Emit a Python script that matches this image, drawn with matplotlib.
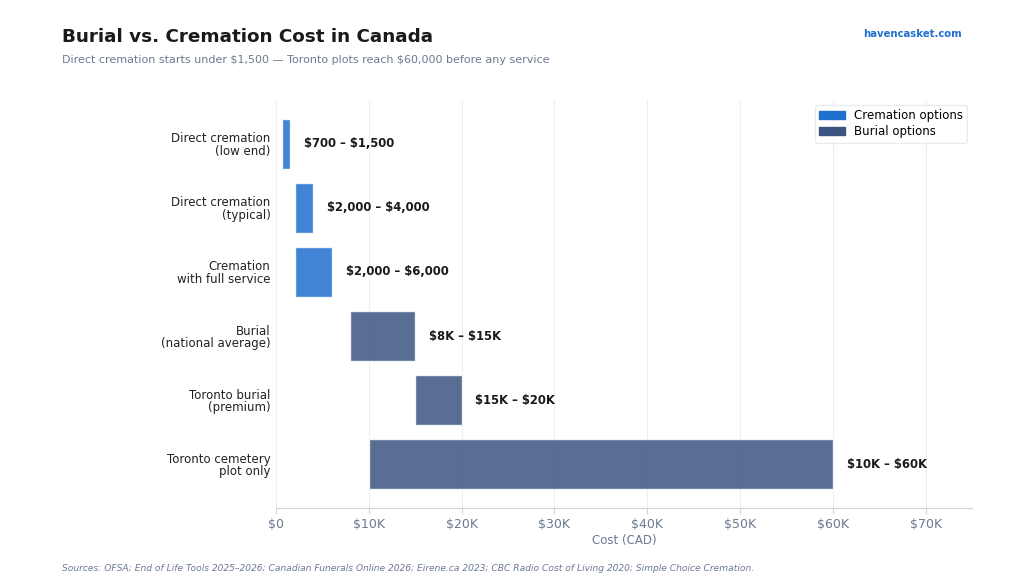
import matplotlib
matplotlib.use("Agg")
import matplotlib.pyplot as plt
from matplotlib.patches import Patch
from matplotlib.ticker import FuncFormatter

plt.rcParams["text.parse_math"] = False

categories = ["Direct cremation\n(low end)", "Direct cremation\n(typical)", "Cremation\nwith full service",
              "Burial\n(national average)", "Toronto burial\n(premium)", "Toronto cemetery\nplot only"]
low = [700, 2000, 2000, 8000, 15000, 10000]
high = [1500, 4000, 6000, 15000, 20000, 60000]
kind = ["cremation", "cremation", "cremation", "burial", "burial", "burial"]
labels = ["$700 – $1,500", "$2,000 – $4,000", "$2,000 – $6,000", "$8K – $15K", "$15K – $20K", "$10K – $60K"]

colors = {"cremation": "#1f6fcf", "burial": "#3b5580"}
muted = "#6b7a90"

fig = plt.figure(figsize=(10.24, 5.85), dpi=100)
ax = fig.add_axes([0.2695, 0.1316, 0.6797, 0.6975])

y = list(range(len(categories)))
widths = [h - l for l, h in zip(low, high)]
bars = ax.barh(y, widths, left=low, height=0.78,
               color=[colors[k] for k in kind], alpha=0.85,
               edgecolor="white", linewidth=1)

for yi, h, t in zip(y, high, labels):
    ax.annotate(t, (h, yi), xytext=(10, 0), textcoords="offset points",
                va="center", ha="left", fontsize=8.4, fontweight="bold", color="#1a1a1a")

ax.set_xlim(0, 75000)
ax.set_ylim(5.68, -0.68)
ax.set_yticks(y)
ax.set_yticklabels(categories, fontsize=8.5, color="#222222", linespacing=0.95)
ax.tick_params(axis="y", length=0, pad=4)
ax.set_xticks(range(0, 70001, 10000))
ax.xaxis.set_major_formatter(FuncFormatter(lambda v, p: "$0" if v == 0 else "$%dK" % (v / 1000)))
ax.tick_params(axis="x", colors="#d0d5dd", labelcolor=muted, labelsize=9, length=4)
ax.set_xlabel("Cost (CAD)", fontsize=8.5, color=muted, labelpad=2)
ax.grid(axis="x", color="#eeeeee", linewidth=0.8)
ax.set_axisbelow(True)
for s in ["top", "right", "left"]:
    ax.spines[s].set_visible(False)
ax.spines["bottom"].set_color("#d0d5dd")

handles = [Patch(color=colors["cremation"], label="Cremation options"),
           Patch(color=colors["burial"], label="Burial options")]
leg = ax.legend(handles=handles, loc="upper right", fontsize=8.5, frameon=True,
                borderaxespad=0.4, handlelength=2.2, labelspacing=0.3, borderpad=0.35)
leg.get_frame().set_edgecolor("#e5e7eb")

fig.text(0.0605, 0.937, "Burial vs. Cremation Cost in Canada", fontsize=13.2, fontweight="bold",
         color="#1a1a1a", va="center")
fig.text(0.0605, 0.897, "Direct cremation starts under $1,500 — Toronto plots reach $60,000 before any service",
         fontsize=8.0, color=muted, va="center")
fig.text(0.939, 0.942, "havencasket.com", fontsize=7.3, fontweight="bold", color="#1f6fcf",
         ha="right", va="center")
fig.text(0.0605, 0.029, "Sources: OFSA; End of Life Tools 2025–2026; Canadian Funerals Online 2026; Eirene.ca 2023; "
         "CBC Radio Cost of Living 2020; Simple Choice Cremation.",
         fontsize=6.6, style="italic", color=muted, va="center")

fig.savefig("out.png", dpi=100)
